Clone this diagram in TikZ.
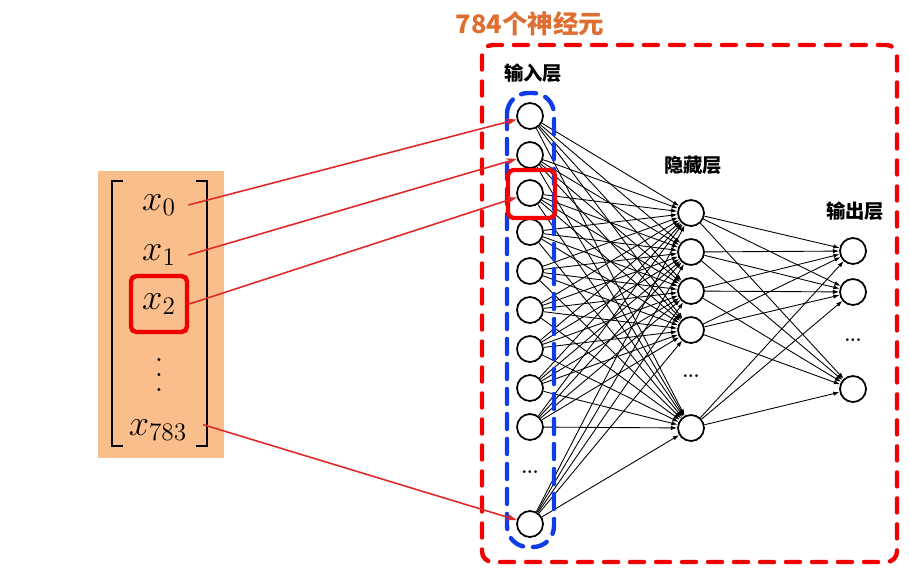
\documentclass[tikz,border=0pt]{standalone}
\usepackage{fontspec}
\newfontfamily\cjk{Noto Sans CJK SC}
\usetikzlibrary{arrows.meta}
\definecolor{feedred}{RGB}{225,40,40}
\definecolor{boxred}{RGB}{240,0,0}
\definecolor{layerblue}{RGB}{15,60,230}
\definecolor{panelorange}{RGB}{249,190,140}
\definecolor{titleorange}{RGB}{222,110,50}

\begin{document}
\begin{tikzpicture}[x=0.02cm,y=-0.02cm,
  neuron/.style={circle,draw,line width=1pt,fill=white,minimum size=0.52cm,inner sep=0pt},
  link/.style={-{Latex[length=3.5pt,width=2.5pt]},line width=0.5pt},
  feed/.style={feedred,line width=0.9pt,-{Stealth[length=6pt,width=4pt]}},
  layername/.style={font=\cjk\bfseries\fontsize{11}{13}\selectfont},
  netdots/.style={font=\bfseries\normalsize,inner sep=1pt},
  entry/.style={font=\fontsize{22}{26}\selectfont,inner sep=5pt}]

\useasboundingbox (0,0) rectangle (909,575);

% input vector
\fill[panelorange] (98,171) rectangle (224,458);
\draw[line width=1.1pt] (123,181) -- (112,181) -- (112,446) -- (123,446);
\draw[line width=1.1pt] (196,181) -- (207,181) -- (207,446) -- (196,446);
\node[entry] (x0) at (159,205) {$x_0$};
\node[entry] (x1) at (159,255) {$x_1$};
\node[entry,draw=boxred,line width=2.5pt,rounded corners=3pt,minimum size=1.12cm,inner sep=0pt] (x2) at (159,304) {$x_2$};
\node[inner sep=0pt] (xdots) at (159,364) {\scalebox{2.1}{\scriptsize$\vdots$}};
\node[entry,inner sep=3pt] (x783) at (158,430) {$x_{783}$};

% layers
\foreach \y [count=\i] in {116,155,193,232,271,310,349,388,427,524}
  \node[neuron] (in\i) at (530,\y) {};
\foreach \y [count=\j] in {213,252,291,330,428}
  \node[neuron] (h\j) at (691,\y) {};
\foreach \y [count=\k] in {251,292,389}
  \node[neuron] (o\k) at (853,\y) {};
\node[netdots] (indots) at (530,472) {...};
\node[netdots] (hdots) at (691,376) {...};
\node[netdots] (odots) at (853,340) {...};

\foreach \i in {1,...,10}
  \foreach \j in {1,...,5}
    \draw[link] (in\i) -- (h\j);
\foreach \j in {1,...,5}
  \foreach \k in {1,...,3}
    \draw[link] (h\j) -- (o\k);

% frames
\draw[layerblue,line width=2.5pt,dash pattern=on 0.3cm off 0.2cm,line cap=round,rounded corners=0.42cm] (507,93) rectangle (554,547);
\draw[boxred,line width=2.5pt,rounded corners=3pt] (508,170) rectangle (555,218);
\draw[boxred,line width=2.5pt,dash pattern=on 0.28cm off 0.24cm,line cap=round,rounded corners=6pt] (482,45) rectangle (897,562);

\draw[feed] ([xshift=2pt]x0.east) -- (in1);
\draw[feed] ([xshift=2pt]x1.east) -- (in2);
\draw[feed] (x2.east) -- (in3);
\draw[feed] ([xshift=6pt,yshift=3pt]x783.east) -- (in10);

\node[layername] (inname) at (533,73) {输入层};
\node[layername] (hname) at (693,165) {隐藏层};
\node[layername] (oname) at (855,211) {输出层};
\node[font=\cjk\bfseries\fontsize{14.5}{17}\selectfont,text=titleorange] (title) at (530,24) {784个神经元};
\end{tikzpicture}
\end{document}
